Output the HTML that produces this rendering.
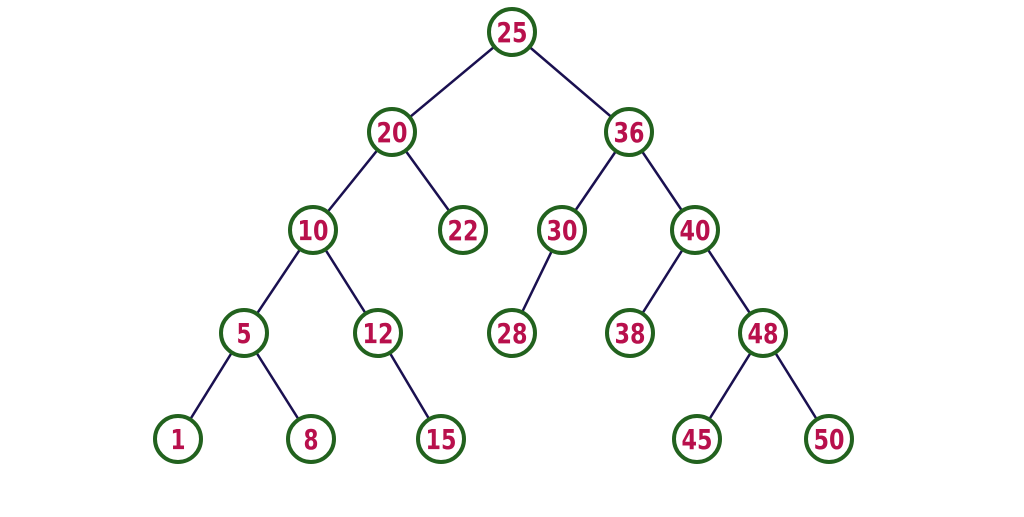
<!DOCTYPE html>
<html><head><meta charset="utf-8"><style>html,body{margin:0;padding:0;background:#fff}</style></head>
<body>
<svg width="1024" height="512" viewBox="0 0 1024 512" xmlns="http://www.w3.org/2000/svg">
<g stroke="#1a1050" stroke-width="2.5">
<line x1="512" y1="32" x2="392" y2="132"/><line x1="512" y1="32" x2="629" y2="132"/>
<line x1="392" y1="132" x2="313" y2="230"/><line x1="392" y1="132" x2="463" y2="230"/>
<line x1="629" y1="132" x2="562" y2="230"/><line x1="629" y1="132" x2="695" y2="230"/>
<line x1="313" y1="230" x2="244" y2="333"/><line x1="313" y1="230" x2="378" y2="333"/>
<line x1="562" y1="230" x2="512" y2="333"/>
<line x1="695" y1="230" x2="630" y2="333"/><line x1="695" y1="230" x2="763" y2="333"/>
<line x1="244" y1="333" x2="178" y2="439"/><line x1="244" y1="333" x2="311" y2="439"/>
<line x1="378" y1="333" x2="441" y2="439"/>
<line x1="763" y1="333" x2="697" y2="439"/><line x1="763" y1="333" x2="829" y2="439"/>
</g>
<g fill="#fff" stroke="#22621e" stroke-width="4">
<circle cx="512" cy="32" r="23"/><circle cx="392" cy="132" r="23"/><circle cx="629" cy="132" r="23"/>
<circle cx="313" cy="230" r="23"/><circle cx="463" cy="230" r="23"/><circle cx="562" cy="230" r="23"/><circle cx="695" cy="230" r="23"/>
<circle cx="244" cy="333" r="23"/><circle cx="378" cy="333" r="23"/><circle cx="512" cy="333" r="23"/><circle cx="630" cy="333" r="23"/><circle cx="763" cy="333" r="23"/>
<circle cx="178" cy="439" r="23"/><circle cx="311" cy="439" r="23"/><circle cx="441" cy="439" r="23"/><circle cx="697" cy="439" r="23"/><circle cx="829" cy="439" r="23"/>
</g>
<g fill="#b8104c" font-family="DejaVu Sans, Liberation Sans, sans-serif" font-weight="bold" font-size="28" text-anchor="middle" lengthAdjust="spacingAndGlyphs">
<text x="512" y="42" textLength="31" lengthAdjust="spacingAndGlyphs">25</text><text x="392" y="142" textLength="31" lengthAdjust="spacingAndGlyphs">20</text><text x="629" y="142" textLength="31" lengthAdjust="spacingAndGlyphs">36</text>
<text x="313" y="240" textLength="31" lengthAdjust="spacingAndGlyphs">10</text><text x="463" y="240" textLength="31" lengthAdjust="spacingAndGlyphs">22</text><text x="562" y="240" textLength="31" lengthAdjust="spacingAndGlyphs">30</text><text x="695" y="240" textLength="31" lengthAdjust="spacingAndGlyphs">40</text>
<text x="244" y="343" textLength="15" lengthAdjust="spacingAndGlyphs">5</text><text x="378" y="343" textLength="31" lengthAdjust="spacingAndGlyphs">12</text><text x="512" y="343" textLength="31" lengthAdjust="spacingAndGlyphs">28</text><text x="630" y="343" textLength="31" lengthAdjust="spacingAndGlyphs">38</text><text x="763" y="343" textLength="31" lengthAdjust="spacingAndGlyphs">48</text>
<text x="178" y="449" textLength="15" lengthAdjust="spacingAndGlyphs">1</text><text x="311" y="449" textLength="15" lengthAdjust="spacingAndGlyphs">8</text><text x="441" y="449" textLength="31" lengthAdjust="spacingAndGlyphs">15</text><text x="697" y="449" textLength="31" lengthAdjust="spacingAndGlyphs">45</text><text x="829" y="449" textLength="31" lengthAdjust="spacingAndGlyphs">50</text>
</g>
</svg>
</body></html>
